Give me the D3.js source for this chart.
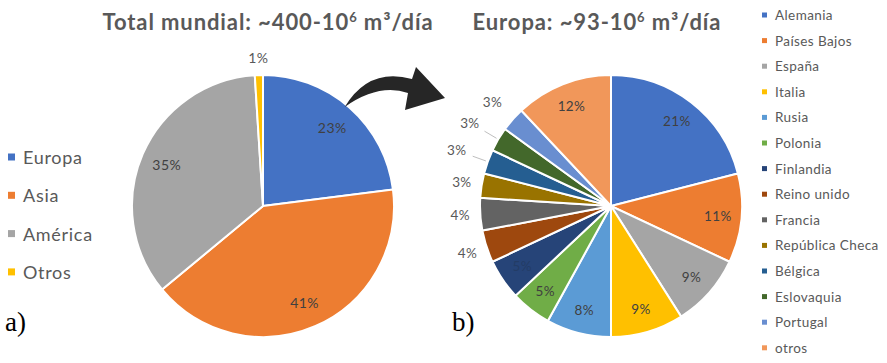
<!DOCTYPE html>
<html lang="es">
<head>
<meta charset="utf-8">
<script src="https://cdn.jsdelivr.net/npm/d3@7"></script>
<style>
  html, body { margin: 0; padding: 0; background: #fff; }
  svg { display: block; }
  text { font-family: Lato, "Open Sans", sans-serif; }
</style>
</head>
<body>
<svg id="chart" width="887" height="363"></svg>
<script>
// World totals by region (%)
const worldRegions = ["Europa", "Asia", "América", "Otros"];
const worldShare = [23, 41, 35, 1];
const worldColors = ["#4472C4", "#ED7D31", "#A5A5A5", "#FFC000"];

// European breakdown by country (%)
const euroCountries = ["Alemania", "Países Bajos", "España", "Italia", "Rusia", "Polonia",
  "Finlandia", "Reino unido", "Francia", "República Checa", "Bélgica", "Eslovaquia",
  "Portugal", "otros"];
const euroShare = [21, 11, 9, 9, 8, 5, 5, 4, 4, 3, 3, 3, 3, 12];
const euroColors = ["#4472C4", "#ED7D31", "#A5A5A5", "#FFC000", "#5B9BD5", "#70AD47",
  "#264478", "#9E480E", "#636363", "#997300", "#255E91", "#43682B", "#698ED0", "#F1975A"];

const svg = d3.select("#chart");
const R = 131;
const leftC = { x: 263, y: 206 };
const rightC = { x: 611, y: 206 };

const pie = d3.pie().sort(null).value(d => d.v);
const arc = d3.arc().innerRadius(0).outerRadius(R);

function polar(c, r, a) {
  return [c.x + r * Math.sin(a), c.y - r * Math.cos(a)];
}

// Title with a superscript exponent
function title(x, y, before, after) {
  const t = svg.append("text")
    .attr("x", x).attr("y", y)
    .attr("text-anchor", "middle")
    .attr("font-size", 22).attr("font-weight", 700)
    .attr("letter-spacing", 0.9)
    .attr("fill", "#595959");
  t.append("tspan").text(before);
  t.append("tspan").attr("dy", -8).attr("font-size", 13).text("6");
  t.append("tspan").attr("dy", 8).text(after);
}

title(268, 30, "Total mundial: ~400-10", " m³/día");
title(597, 30, "Europa: ~93-10", " m³/día");

// ---- Left pie: world ----
const gL = svg.append("g").attr("transform", `translate(${leftC.x},${leftC.y})`);
const worldData = pie(worldRegions.map((k, i) => ({ k, v: worldShare[i], c: worldColors[i] })));
gL.selectAll("path").data(worldData).join("path")
  .attr("d", arc)
  .attr("fill", d => d.data.c)
  .attr("stroke", "#fff").attr("stroke-width", 2);

worldData.forEach(d => {
  const mid = (d.startAngle + d.endAngle) / 2;
  const outside = d.data.v < 3;
  const [x, y] = outside ? polar({ x: 0, y: 0 }, R + 18, mid) : polar({ x: 0, y: 0 }, R * 0.8, mid);
  gL.append("text")
    .attr("x", x).attr("y", y)
    .attr("text-anchor", "middle").attr("dominant-baseline", "central")
    .attr("font-size", 14).attr("letter-spacing", 0.5)
    .attr("fill", outside ? "#595959" : "#404040")
    .text(d.data.v + "%");
});

// Left legend
const legL = svg.append("g");
worldRegions.forEach((k, i) => {
  const y = 157 + i * 38.3;
  legL.append("rect").attr("x", 8).attr("y", y - 3.5).attr("width", 7).attr("height", 7).attr("fill", worldColors[i]);
  legL.append("text").attr("x", 23).attr("y", y).attr("dominant-baseline", "central")
    .attr("font-size", 18).attr("letter-spacing", 0.7).attr("fill", "#595959").text(k);
});

// ---- Right pie: Europe ----
const gR = svg.append("g").attr("transform", `translate(${rightC.x},${rightC.y})`);
const euroData = pie(euroCountries.map((k, i) => ({ k, v: euroShare[i], c: euroColors[i] })));
gR.selectAll("path").data(euroData).join("path")
  .attr("d", arc)
  .attr("fill", d => d.data.c)
  .attr("stroke", "#fff").attr("stroke-width", 2);

// small slices get their labels outside the pie, two of them with a leader line
const withLeader = new Set(["Bélgica", "Eslovaquia"]);
euroData.forEach(d => {
  const mid = (d.startAngle + d.endAngle) / 2;
  const outside = d.data.v <= 4;
  const o = { x: 0, y: 0 };
  let pos;
  if (outside) {
    const lead = withLeader.has(d.data.k);
    const extra = d.data.k === "Portugal" ? 27 : (lead ? 33 : 20);
    pos = polar(o, R + extra, mid);
    if (lead) {
      const a = polar(o, R + 2, mid), b = polar(o, R + 16, mid);
      gR.append("line").attr("x1", a[0]).attr("y1", a[1]).attr("x2", b[0]).attr("y2", b[1])
        .attr("stroke", "#bfbfbf").attr("stroke-width", 1);
    }
  } else {
    pos = polar(o, R * 0.82, mid);
  }
  gR.append("text")
    .attr("x", pos[0]).attr("y", pos[1])
    .attr("text-anchor", "middle").attr("dominant-baseline", "central")
    .attr("font-size", 13.5).attr("letter-spacing", 0.4)
    .attr("fill", outside ? "#595959" : (d.data.k === "Finlandia" ? "#233c66" : "#404040"))
    .text(d.data.v + "%");
});

// Right legend
const legR = svg.append("g");
euroCountries.forEach((k, i) => {
  const y = 15 + i * 25.6;
  legR.append("rect").attr("x", 762).attr("y", y - 2.5).attr("width", 5).attr("height", 5).attr("fill", euroColors[i]);
  legR.append("text").attr("x", 775).attr("y", y).attr("dominant-baseline", "central")
    .attr("font-size", 13.5).attr("letter-spacing", 0.4).attr("fill", "#595959").text(k);
});

// Curved arrow from the Europe slice to the European breakdown
const s = polar(leftC, R * 0.98, 0.69);           // start on Europe's rim
const headBase = [rightC.x - 199, rightC.y - 127];
const arrowPath = d3.path();
arrowPath.moveTo(s[0], s[1]);
arrowPath.quadraticCurveTo(s[0] + 24, s[1] - 40, headBase[0], headBase[1]);
arrowPath.lineTo(headBase[0] + 4, headBase[1] - 12);
arrowPath.lineTo(headBase[0] + 33, headBase[1] + 19);
arrowPath.lineTo(headBase[0] - 7, headBase[1] + 31);
arrowPath.lineTo(headBase[0] - 4, headBase[1] + 14);
arrowPath.quadraticCurveTo(s[0] + 34, s[1] - 24, s[0], s[1]);
arrowPath.closePath();
svg.append("path").attr("d", arrowPath.toString()).attr("fill", "#262626");

// Panel tags
svg.append("text").attr("x", 5).attr("y", 331)
  .style("font-family", "'Liberation Serif', 'DejaVu Serif', serif")
  .attr("font-size", 27).attr("fill", "#000").text("a)");
svg.append("text").attr("x", 452).attr("y", 331)
  .style("font-family", "'Liberation Serif', 'DejaVu Serif', serif")
  .attr("font-size", 27).attr("fill", "#000").text("b)");
</script>
</body>
</html>
